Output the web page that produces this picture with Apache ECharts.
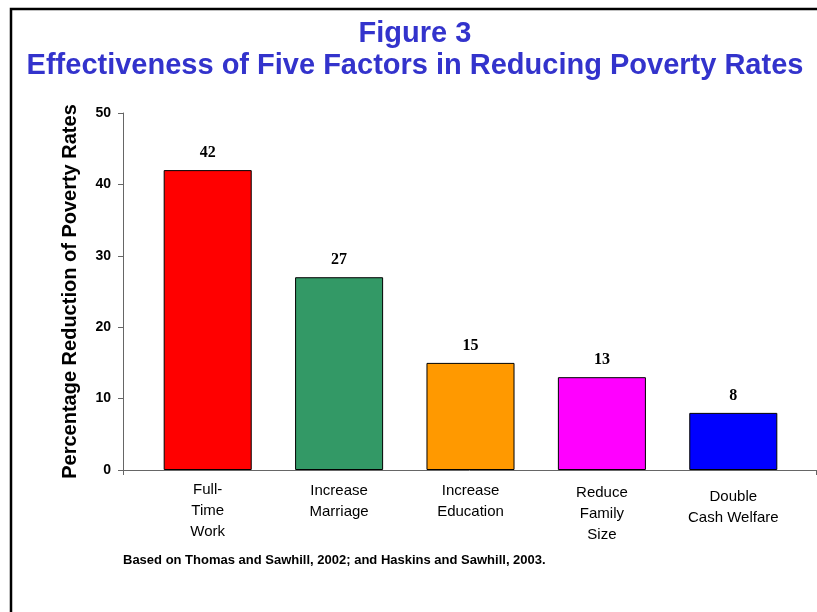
<!DOCTYPE html>
<html>
<head>
<meta charset="utf-8">
<script src="https://cdn.jsdelivr.net/npm/echarts@6/dist/echarts.min.js"></script>
<style>
html,body{margin:0;padding:0;background:#fff;}
#chart{width:817px;height:612px;}
</style>
</head>
<body>
<div id="chart"></div>
<script>
// ---- data ----
var categories = ['Full-\nTime\nWork', 'Increase\nMarriage', 'Increase\nEducation', 'Reduce\nFamily\nSize', 'Double\nCash Welfare'];
var values = [42, 27, 15, 13, 8];
var barColors = ['#FF0000', '#339966', '#FF9900', '#FF00FF', '#0000FF'];
var yTicks = { min: 0, max: 50, interval: 10 };
var titleLine1 = 'Figure 3';
var titleLine2 = 'Effectiveness of Five Factors in Reducing Poverty Rates';
var yAxisName = 'Percentage Reduction of Poverty Rates';
var footnote = 'Based on Thomas and Sawhill, 2002; and Haskins and Sawhill, 2003.';

// small per-label vertical nudges (layout only)
var labelTopPad = [0, 1, 1, 3, 7];

var chart = echarts.init(document.getElementById('chart'), null, { renderer: 'canvas' });

var titleStyle = {
  fontFamily: 'Arial, "Liberation Sans", sans-serif',
  fontWeight: 'bold',
  fontSize: 29,
  lineHeight: 32,
  color: '#3333CC',
  textShadowColor: '#9a9a9a',
  textShadowOffsetX: 2,
  textShadowOffsetY: 2,
  textShadowBlur: 0
};

var option = {
  backgroundColor: '#ffffff',
  animation: false,
  title: [
    { text: titleLine1, left: 415, top: 18, textAlign: 'center', padding: 0, textStyle: titleStyle },
    { text: titleLine2, left: 415, top: 50, textAlign: 'center', padding: 0, textStyle: titleStyle },
    { text: footnote, left: 123, top: 552, padding: 0,
      textStyle: { fontFamily: 'Arial, "Liberation Sans", sans-serif', fontWeight: 'bold', fontSize: 13, lineHeight: 16, color: '#000' } }
  ],
  graphic: [
    { type: 'rect', shape: { x: 11, y: 9, width: 900, height: 700 }, style: { fill: 'none', stroke: '#000', lineWidth: 2.5 }, silent: true, z: 100 }
  ],
  grid: [
    { left: 142, right: 18, top: 113, bottom: 142 },
    { left: 123, right: 1, top: 113, bottom: 142 }
  ],
  xAxis: [
    {
      type: 'category', gridIndex: 0,
      data: categories.map(function (c, i) {
        return { value: c, textStyle: { padding: [labelTopPad[i], 0, 0, 0] } };
      }),
      axisLine: { show: false }, axisTick: { show: false },
      axisLabel: {
        interval: 0, margin: 9,
        fontFamily: 'Arial, "Liberation Sans", sans-serif', fontSize: 15, lineHeight: 21, color: '#000'
      }
    },
    {
      type: 'category', gridIndex: 1, data: [''],
      axisLine: { show: true, lineStyle: { color: '#666', width: 1 } },
      axisTick: { show: true, length: 5, lineStyle: { color: '#666' } },
      axisLabel: { show: false }
    }
  ],
  yAxis: [
    {
      type: 'value', gridIndex: 0, min: yTicks.min, max: yTicks.max, interval: yTicks.interval,
      offset: 19,
      name: yAxisName, nameLocation: 'middle', nameGap: 43, nameRotate: 90,
      nameTextStyle: { fontFamily: 'Arial, "Liberation Sans", sans-serif', fontWeight: 'bold', fontSize: 20, color: '#000' },
      axisLine: { show: true, lineStyle: { color: '#666', width: 1 } },
      axisTick: { show: true, length: 5, lineStyle: { color: '#666' } },
      splitLine: { show: false },
      axisLabel: { margin: 12, fontFamily: 'Arial, "Liberation Sans", sans-serif', fontWeight: 'bold', fontSize: 14, color: '#000' }
    },
    {
      type: 'value', gridIndex: 1, min: yTicks.min, max: yTicks.max, show: false
    }
  ],
  series: [
    {
      type: 'bar', xAxisIndex: 0, yAxisIndex: 0,
      barWidth: '67%',
      data: values.map(function (v, i) {
        return { value: v, itemStyle: { color: barColors[i] } };
      }),
      itemStyle: { borderColor: '#000', borderWidth: 1 },
      label: {
        show: true, position: 'top', distance: 9,
        fontFamily: '"Liberation Serif", "Times New Roman", serif', fontWeight: 'bold', fontSize: 16, color: '#000'
      }
    }
  ]
};
chart.setOption(option);
</script>
</body>
</html>
